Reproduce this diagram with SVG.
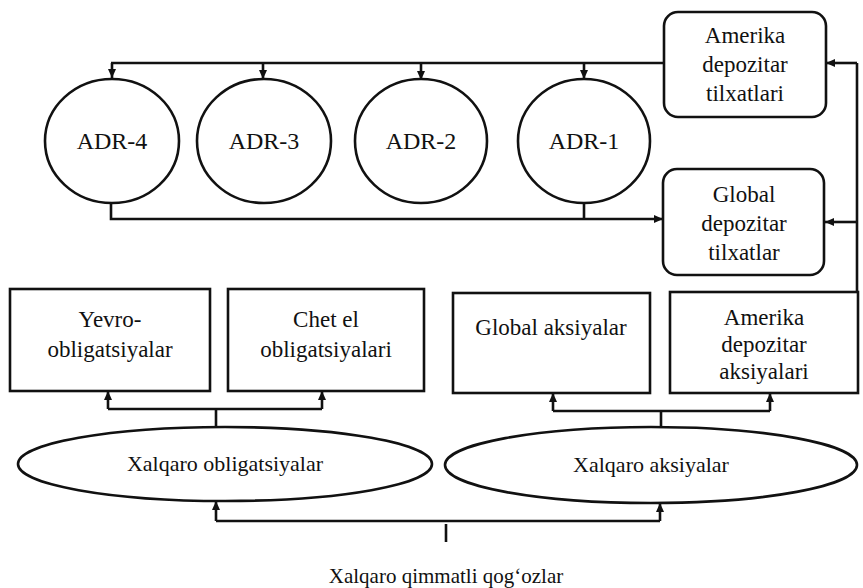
<svg xmlns="http://www.w3.org/2000/svg" width="863" height="588" viewBox="0 0 863 588">
<style>
.shape{fill:#fff;stroke:#111;stroke-width:2.6}
.ln{fill:none;stroke:#111;stroke-width:2.6}
.t{font-family:'Liberation Serif','Times New Roman',serif;font-size:23px;fill:#111;text-anchor:middle}
.ta{font-family:'Liberation Serif','Times New Roman',serif;font-size:24px;fill:#111;text-anchor:middle}
.te{font-family:'Liberation Serif','Times New Roman',serif;font-size:22px;fill:#111;text-anchor:middle}
.tt{font-family:'Liberation Serif','Times New Roman',serif;font-size:21px;fill:#111;text-anchor:middle}
</style>
<defs>
<marker id="ah" markerUnits="userSpaceOnUse" markerWidth="10" markerHeight="10" viewBox="0 0 10 10" refX="9" refY="5" orient="auto">
<path d="M0,1 L9,5 L0,9 Z" fill="#111"/>
</marker>
</defs>
<rect width="863" height="588" fill="#fff"/>
<g id="connectors">
<path class="ln" d="M663,63 H111"/>
<path class="ln" d="M112,63 V78" marker-end="url(#ah)"/>
<path class="ln" d="M263,63 V79" marker-end="url(#ah)"/>
<path class="ln" d="M421,63 V80" marker-end="url(#ah)"/>
<path class="ln" d="M584,63 V79" marker-end="url(#ah)"/>
<path class="ln" d="M111,203 V219 H663" marker-end="url(#ah)"/>
<path class="ln" d="M584,203 V219"/>
<path class="ln" d="M857,63 V292"/>
<path class="ln" d="M857,63 H826" marker-end="url(#ah)"/>
<path class="ln" d="M857,222 H825" marker-end="url(#ah)"/>
<path class="ln" d="M216,427 V409"/>
<path class="ln" d="M108,409 H322"/>
<path class="ln" d="M108,409 V391" marker-end="url(#ah)"/>
<path class="ln" d="M322,409 V391" marker-end="url(#ah)"/>
<path class="ln" d="M661,427 V411"/>
<path class="ln" d="M553,411 H770"/>
<path class="ln" d="M553,411 V393" marker-end="url(#ah)"/>
<path class="ln" d="M770,411 V393" marker-end="url(#ah)"/>
<path class="ln" d="M216,521 H660"/>
<path class="ln" d="M216,521 V501" marker-end="url(#ah)"/>
<path class="ln" d="M660,521 V503" marker-end="url(#ah)"/>
<path class="ln" d="M446,524 V542"/>
</g>
<g id="adr4"><ellipse class="shape" cx="112" cy="141" rx="67" ry="62"/><text class="ta" x="112" y="149">ADR-4</text></g>
<g id="adr3"><ellipse class="shape" cx="264" cy="141" rx="67" ry="62"/><text class="ta" x="264" y="149">ADR-3</text></g>
<g id="adr2"><ellipse class="shape" cx="421" cy="141" rx="66" ry="62"/><text class="ta" x="421" y="149">ADR-2</text></g>
<g id="adr1"><ellipse class="shape" cx="584" cy="141" rx="66" ry="62"/><text class="ta" x="584" y="149">ADR-1</text></g>
<g id="adr-box"><rect class="shape" x="664" y="12" width="162" height="105" rx="14"/>
<text class="t" x="745" y="43">Amerika</text><text class="t" x="745" y="72">depozitar</text><text class="t" x="745" y="101">tilxatlari</text></g>
<g id="gdr-box"><rect class="shape" x="663" y="169" width="161" height="106" rx="14"/>
<text class="t" x="744" y="202">Global</text><text class="t" x="744" y="231">depozitar</text><text class="t" x="744" y="260">tilxatlar</text></g>
<g id="yevro"><rect class="shape" x="10" y="289" width="200" height="102"/>
<text class="t" x="110" y="327">Yevro-</text><text class="t" x="110" y="357">obligatsiyalar</text></g>
<g id="chet"><rect class="shape" x="228" y="289" width="196" height="102"/>
<text class="t" x="326" y="327">Chet el</text><text class="t" x="326" y="357">obligatsiyalari</text></g>
<g id="global-aks"><rect class="shape" x="453" y="293" width="197" height="100"/>
<text class="t" x="551" y="335">Global aksiyalar</text></g>
<g id="amer-aks"><rect class="shape" x="670" y="292" width="188" height="101"/>
<text class="t" x="764" y="325">Amerika</text><text class="t" x="764" y="352">depozitar</text><text class="t" x="764" y="379">aksiyalari</text></g>
<g id="xalq-obl"><ellipse class="shape" cx="225" cy="464" rx="207" ry="37"/><text class="te" x="225" y="471">Xalqaro obligatsiyalar</text></g>
<g id="xalq-aks"><ellipse class="shape" cx="651" cy="465" rx="206" ry="38"/><text class="te" x="651" y="472">Xalqaro aksiyalar</text></g>
<g id="title"><text class="tt" x="446" y="583">Xalqaro qimmatli qog‘ozlar</text></g>
</svg>
